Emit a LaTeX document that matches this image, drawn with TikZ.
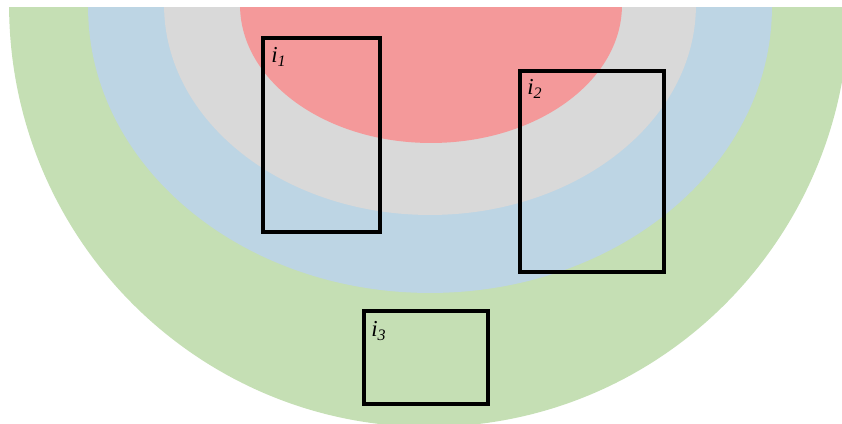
\documentclass[tikz,border=0pt]{standalone}
\usepackage{fontspec}
\setmainfont{Liberation Serif}
\usepackage{xcolor}
\definecolor{ringgreen}{HTML}{C5DFB4}
\definecolor{ringblue}{HTML}{BDD5E4}
\definecolor{ringgray}{HTML}{D9D9D9}
\definecolor{ringred}{HTML}{F4999A}

\begin{document}
\begin{tikzpicture}[
        x=0.02cm, y=-0.02cm,
        every node/.style={font=\fontsize{13}{15}\selectfont\itshape, inner sep=0pt},
        region/.style={draw=black, line width=2.2pt},
        tag/.style={anchor=west},
      ]
      \useasboundingbox (0,0) rectangle (842,423);
      \begin{scope}
        \clip (0,7) rectangle (842,423);
        \fill[ringgreen] (429,5) ellipse [x radius=8.4cm, y radius=8.44cm];
        \fill[ringblue]  (430,7) ellipse [x radius=6.84cm, y radius=5.72cm];
        \fill[ringgray]  (430,5) ellipse [x radius=5.32cm, y radius=4.2cm];
        \fill[ringred]   (431,5) ellipse [x radius=3.82cm, y radius=2.76cm];
      \end{scope}

      \draw[region] (263,38) rectangle (380,232);
      \draw[region] (520,71) rectangle (664,272);
      \draw[region] (364,311) rectangle (488,404);

      \node[tag] (ione)   at (271,57)  {i\textsubscript{1}};
      \node[tag] (itwo)   at (527,89)  {i\textsubscript{2}};
      \node[tag] (ithree) at (371,331) {i\textsubscript{3}};
    \end{tikzpicture}
\end{document}
